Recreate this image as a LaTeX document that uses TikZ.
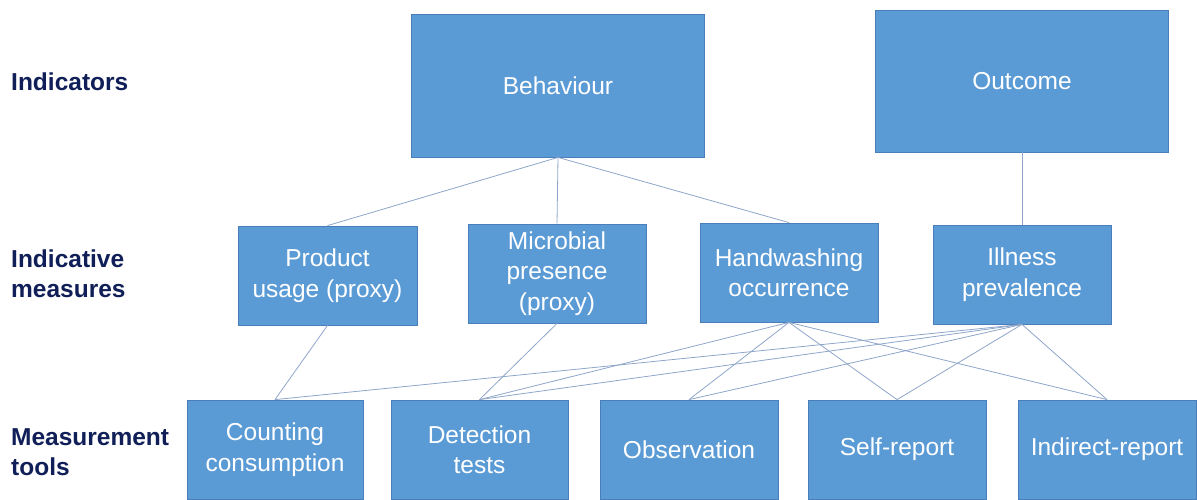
\documentclass[tikz,border=0pt]{standalone}
\usepackage{fontspec}
\setmainfont{Liberation Sans}
\usetikzlibrary{positioning}

\definecolor{boxblue}{HTML}{5B9BD5}
\definecolor{boxedge}{HTML}{4A7EBB}
\definecolor{linkblue}{HTML}{8EA6C9}
\definecolor{labelnavy}{HTML}{111F58}

\tikzset{
    measbox/.style={draw=boxedge, line width=0.8pt, fill=boxblue, text=white,
        minimum width=178pt, minimum height=99pt, inner sep=0pt, align=center,
        font=\fontsize{24.5}{30.5}\selectfont},
    bigbox/.style={measbox, minimum width=293pt, minimum height=143pt},
    rowlabel/.style={anchor=west, align=left, text=labelnavy, inner sep=0pt,
        font=\fontsize{24.5}{30}\selectfont\bfseries},
    link/.style={draw=linkblue, line width=0.8pt}
}

\begin{document}
\begin{tikzpicture}[x=1pt, y=-1pt]
        \useasboundingbox (0,0) rectangle (1197,499);

        % row labels
        \node[rowlabel] (lind) at (11,82) {Indicators};
        \node[rowlabel] (lmeas) at (11,274) {Indicative\\measures};
        \node[rowlabel] (ltool) at (11,452) {Measurement\\tools};

        % indicators
        \node[bigbox] (beh) at (558,85.5) {Behaviour};
        \node[bigbox, minimum height=142pt] (out) at (1022,81) {Outcome};

        % indicative measures
        \node[measbox, minimum width=179pt] (prod) at (327.5,275.5) {Product\\usage (proxy)};
        \node[measbox] (micro) at (557,273.5) {Microbial\\presence\\(proxy)};
        \node[measbox] (hand) at (789,272.5) {Handwashing\\occurrence};
        \node[measbox] (ill) at (1022,274.5) {Illness\\prevalence};

        % measurement tools
        \node[measbox, minimum width=176pt] (count) at (275,449.5) {Counting\\consumption};
        \node[measbox, minimum width=177pt] (detect) at (479.5,449.5) {Detection\\tests};
        \node[measbox] (obs) at (689,449.5) {Observation};
        \node[measbox] (self) at (897,449.5) {Self-report};
        \node[measbox] (indir) at (1107,449.5) {Indirect-report};

        % links
        \draw[link] (beh.south) -- (prod.north);
        \draw[link] (beh.south) -- (micro.north);
        \draw[link] (beh.south) -- (hand.north);
        \draw[link] (out.south) -- (ill.north);

        \draw[link] (prod.south) -- (count.north);
        \draw[link] (micro.south) -- (detect.north);
        \foreach \t in {detect,obs,self,indir}
            \draw[link] (hand.south) -- (\t.north);
        \foreach \t in {count,detect,obs,self,indir}
            \draw[link] (ill.south) -- (\t.north);
    \end{tikzpicture}
\end{document}
